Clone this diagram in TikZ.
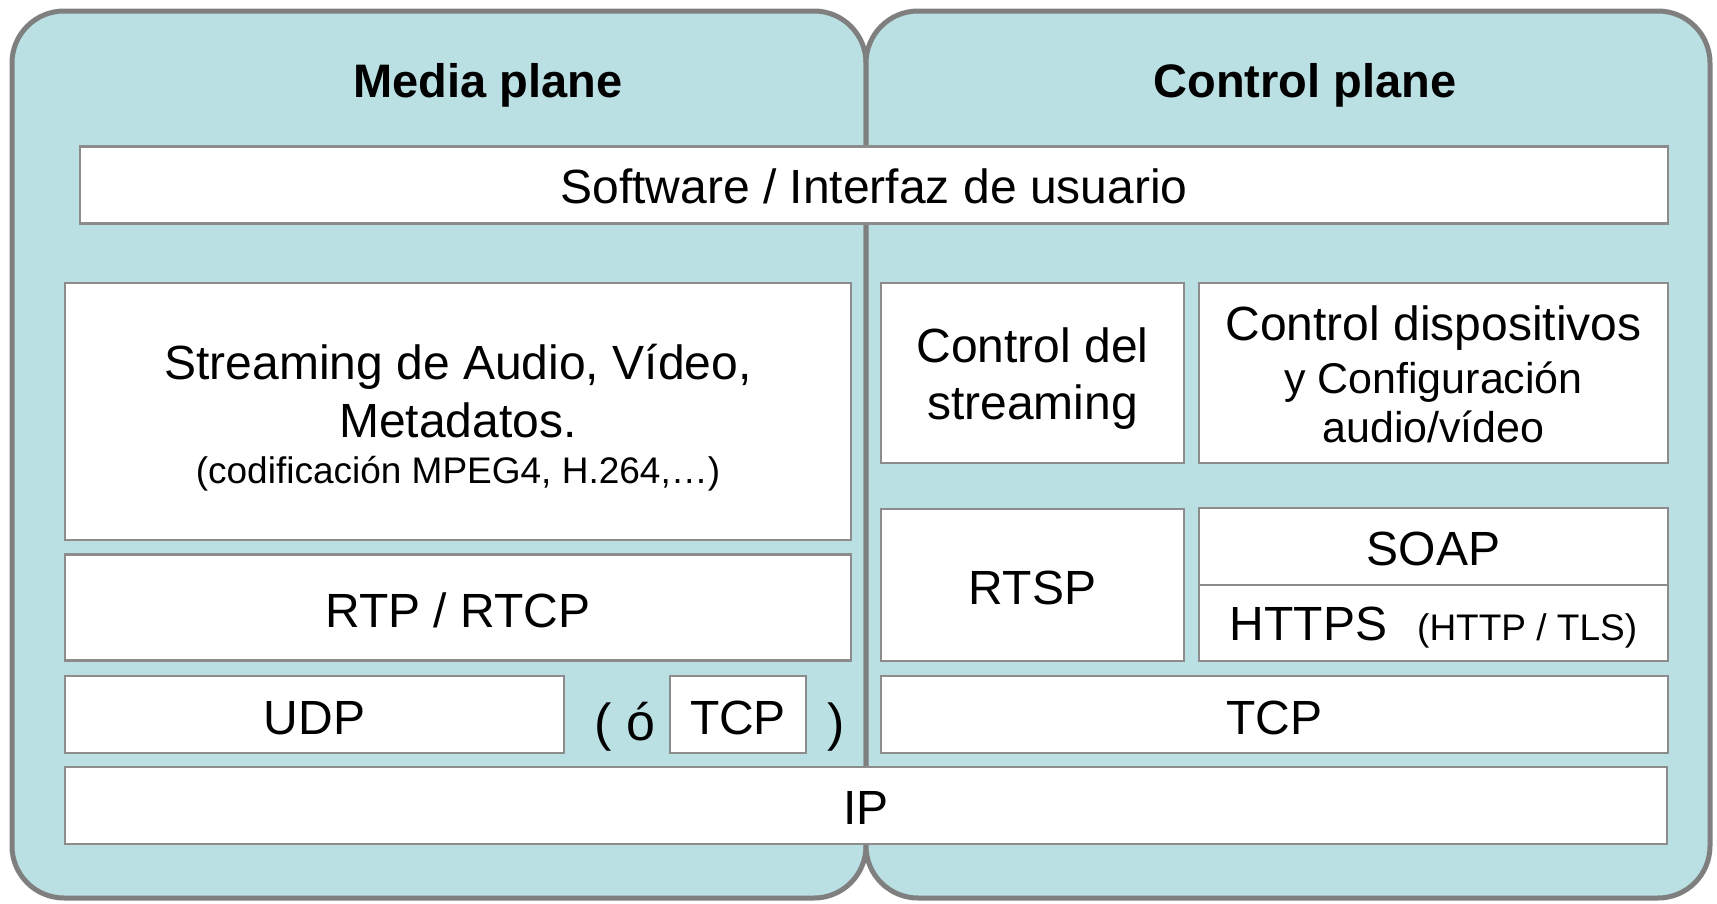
\documentclass[tikz,border=0pt]{standalone}
\usepackage{fontspec}
\setmainfont{Liberation Sans}
\usetikzlibrary{positioning}
\definecolor{planeFill}{HTML}{BAE0E3}
\definecolor{planeEdge}{HTML}{7F7F7F}
\definecolor{layerEdge}{HTML}{8C8C8C}
\newcommand{\bigtxt}{\fontsize{48}{58}\selectfont}
\newcommand{\smalltxt}{\fontsize{37}{44}\selectfont}
\newcommand{\midtxt}{\fontsize{43}{49}\selectfont}
% text sits a little below the middle of each layer
\newcommand{\dn}[2][3pt]{\raisebox{-#1}[\height][\depth]{#2}}

\begin{document}
\begin{tikzpicture}[x=1pt,y=-1pt,
   plane/.style={draw=planeEdge,fill=planeFill,line width=5pt,rounded corners=52pt},
   layer/.style={draw=layerEdge,fill=white,line width=2.5pt,inner sep=0pt,outer sep=0pt,
                 align=center,font=\bigtxt},
   title/.style={font=\fontsize{47}{56}\selectfont\bfseries}]
  \useasboundingbox (0,0) rectangle (1717,903);
  % the two planes
  \draw[plane] (12,11) rectangle (866,898);
  \draw[plane] (866,11) rectangle (1710,898);
  \node[title] (media) at (488,85) {Media plane};
  \node[title] (ctrl) at (1305,85) {Control plane};
  % layers shared by both planes
  \node[layer,minimum width=1588pt,minimum height=77pt] (sw) at (874,185) {\dn[1pt]{Software / Interfaz de usuario}};
  \node[layer,minimum width=1602pt,minimum height=77pt] (ip) at (866,805.5) {\dn[2pt]{IP}};
  % media plane
  \node[layer,minimum width=786pt,minimum height=257pt] (stream) at (458,411.5)
    {\dn[6pt]{Streaming de Audio, Vídeo,}\\ \dn[6pt]{Metadatos.}\\[-12pt]
     {\smalltxt \dn[6pt]{(codificación MPEG4, H.264,…)}}};
  \node[layer,minimum width=786pt,minimum height=106pt] (rtp) at (458,607.5) {\dn{RTP / RTCP}};
  \node[layer,minimum width=499pt,minimum height=77pt] (udp) at (314.5,714.5) {\dn[4pt]{UDP}};
  \node[layer,minimum width=136pt,minimum height=77pt] (tcpm) at (738,714.5) {\dn{TCP}};
  \node[anchor=base,font=\fontsize{52}{60}\selectfont,inner sep=0pt] (ora) at (625,740) {( ó};
  \node[anchor=base,font=\fontsize{52}{60}\selectfont,inner sep=0pt] (orb) at (836,740) {)};
  % control plane
  \node[layer,minimum width=303pt,minimum height=180pt,font=\fontsize{48}{57}\selectfont] (ctrlstr) at (1032.5,373)
    {\dn[6pt]{Control del}\\ \dn[6pt]{streaming}};
  \node[layer,minimum width=469pt,minimum height=180pt,font=\fontsize{48}{53}\selectfont] (dev) at (1433.5,373)
    {\dn[1pt]{Control dispositivos}\\ {\midtxt \dn[1pt]{y Configuración}}\\[-4pt] {\midtxt \dn[1pt]{audio/vídeo}}};
  \node[layer,minimum width=303pt,minimum height=152pt] (rtsp) at (1032.5,585) {\dn{RTSP}};
  \node[layer,minimum width=469pt,minimum height=77pt] (soap) at (1433.5,546.5) {\dn[2pt]{SOAP}};
  \node[layer,minimum width=469pt,minimum height=76pt,below=0pt of soap] (https)
    {\dn[5pt]{HTTPS\hspace{30pt}{\smalltxt (HTTP / TLS)}}};
  \node[layer,minimum width=787pt,minimum height=77pt] (tcpc) at (1274.5,714.5) {\dn{TCP}};
\end{tikzpicture}
\end{document}
